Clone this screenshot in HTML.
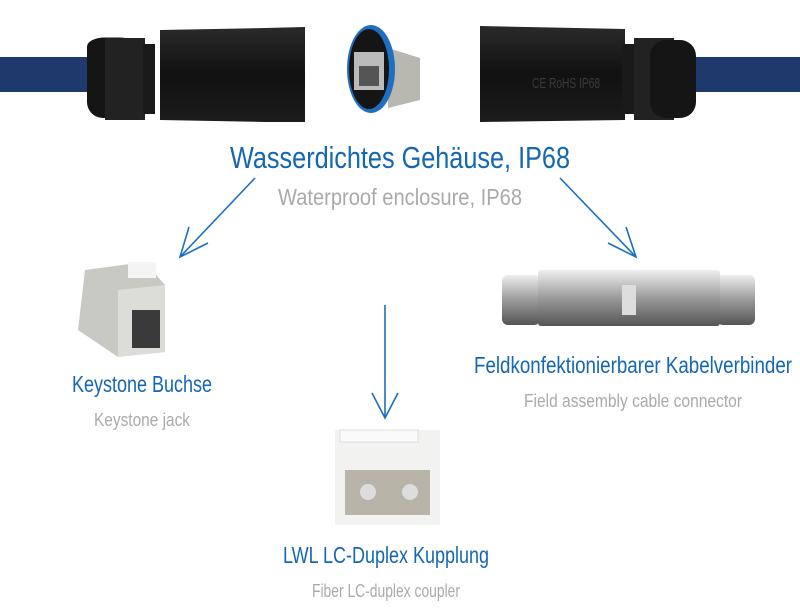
<!DOCTYPE html>
<html><head><meta charset="utf-8"><style>
body{margin:0;background:#fff;}
svg text{font-family:"Liberation Sans Narrow","Liberation Sans",sans-serif;}
</style></head><body>
<svg width="800" height="605" viewBox="0 0 800 605" xmlns="http://www.w3.org/2000/svg">
<defs>
<linearGradient id="met" x1="0" y1="0" x2="0" y2="1"><stop offset="0" stop-color="#eee"/><stop offset=".5" stop-color="#9a9a9a"/><stop offset="1" stop-color="#555"/></linearGradient>
<linearGradient id="blk" x1="0" y1="0" x2="0" y2="1"><stop offset="0" stop-color="#2a2a2a"/><stop offset=".5" stop-color="#111"/><stop offset="1" stop-color="#1c1c1c"/></linearGradient>
</defs>
<!-- cable -->
<rect x="0" y="57" width="100" height="35" fill="#1e3a6c"/>
<rect x="695" y="57" width="105" height="35" fill="#1e3a6c"/>
<!-- left gland -->
<rect x="86" y="47" width="40" height="138" rx="0" fill="none"/>
<rect x="87" y="46" width="50" height="134" rx="18" fill="#151515" transform="scale(1,0.5) translate(0,29)"/>
<rect x="87" y="40" width="40" height="78" rx="16" fill="#151515"/>
<rect x="105" y="38" width="40" height="82" fill="#222"/>
<rect x="143" y="44" width="12" height="70" fill="#1a1a1a"/>
<path d="M160 30 L265 28 L305 27 L305 122 L265 122 L160 120 Z" fill="url(#blk)"/>
<!-- right gland -->
<path d="M480 26 L625 29 L625 120 L480 122 Z" fill="url(#blk)"/>
<rect x="622" y="44" width="14" height="70" fill="#1a1a1a"/>
<rect x="634" y="38" width="40" height="82" fill="#222"/>
<rect x="650" y="40" width="46" height="78" rx="16" fill="#151515"/>
<text x="532" y="88" font-size="15" fill="#3a3a3a" textLength="68" lengthAdjust="spacingAndGlyphs">CE RoHS IP68</text>
<!-- middle coupling -->
<path d="M388 48 L420 58 L420 100 L388 108 Z" fill="#b8b8b0"/>
<ellipse cx="371" cy="69" rx="24" ry="44" fill="#1f6fc0"/>
<ellipse cx="369" cy="69" rx="20" ry="40" fill="#151515"/>
<rect x="354" y="52" width="30" height="38" fill="#bbb"/>
<rect x="359" y="66" width="20" height="20" fill="#555"/>
<!-- title -->
<text x="400" y="168" font-size="31" fill="#1467b3" text-anchor="middle" textLength="340" lengthAdjust="spacingAndGlyphs">Wasserdichtes Gehäuse, IP68</text>
<text x="400" y="205" font-size="23" fill="#aaa" text-anchor="middle" textLength="244" lengthAdjust="spacingAndGlyphs">Waterproof enclosure, IP68</text>
<!-- arrows -->
<g stroke="#1a6fc0" stroke-width="1.6" fill="none">
<line x1="255" y1="178" x2="180" y2="257"/><polyline points="208,243 180,257 189,227"/>
<line x1="560" y1="178" x2="636" y2="257"/><polyline points="608,243 636,257 626,227"/>
<line x1="385" y1="305" x2="385" y2="418"/><polyline points="372,393 385,418 398,393"/>
</g>
<!-- keystone jack -->
<path d="M85 270 L145 262 L165 285 L165 352 L118 357 L78 330 Z" fill="#c9c9c4"/>
<path d="M118 290 L165 285 L165 352 L118 357 Z" fill="#dcdcd8"/>
<rect x="132" y="310" width="28" height="38" fill="#3a3a3a"/>
<rect x="128" y="262" width="28" height="16" fill="#f4f4f4"/>
<!-- cable connector -->
<rect x="502" y="275" width="38" height="50" rx="6" fill="url(#met)"/>
<rect x="717" y="275" width="38" height="50" rx="6" fill="url(#met)"/>
<rect x="538" y="270" width="182" height="56" rx="3" fill="url(#met)"/>
<rect x="622" y="285" width="14" height="30" fill="#ddd"/>
<!-- LC coupler -->
<rect x="335" y="430" width="105" height="95" fill="#f2f2f0"/>
<rect x="340" y="430" width="78" height="12" fill="#fafafa" stroke="#ddd"/>
<rect x="345" y="470" width="85" height="45" fill="#b8b4a8"/>
<circle cx="368" cy="492" r="8" fill="#ddd"/><circle cx="410" cy="492" r="8" fill="#ddd"/>
<!-- labels -->
<text x="142" y="392" font-size="23" fill="#1467b3" text-anchor="middle" textLength="140" lengthAdjust="spacingAndGlyphs">Keystone Buchse</text>
<text x="142" y="426" font-size="18" fill="#aaa" text-anchor="middle" textLength="96" lengthAdjust="spacingAndGlyphs">Keystone jack</text>
<text x="633" y="373" font-size="23" fill="#1467b3" text-anchor="middle" textLength="318" lengthAdjust="spacingAndGlyphs">Feldkonfektionierbarer Kabelverbinder</text>
<text x="633" y="407" font-size="18" fill="#aaa" text-anchor="middle" textLength="218" lengthAdjust="spacingAndGlyphs">Field assembly cable connector</text>
<text x="386" y="563" font-size="23" fill="#1467b3" text-anchor="middle" textLength="206" lengthAdjust="spacingAndGlyphs">LWL LC-Duplex Kupplung</text>
<text x="386" y="597" font-size="18" fill="#aaa" text-anchor="middle" textLength="148" lengthAdjust="spacingAndGlyphs">Fiber LC-duplex coupler</text>
</svg>
</body></html>
